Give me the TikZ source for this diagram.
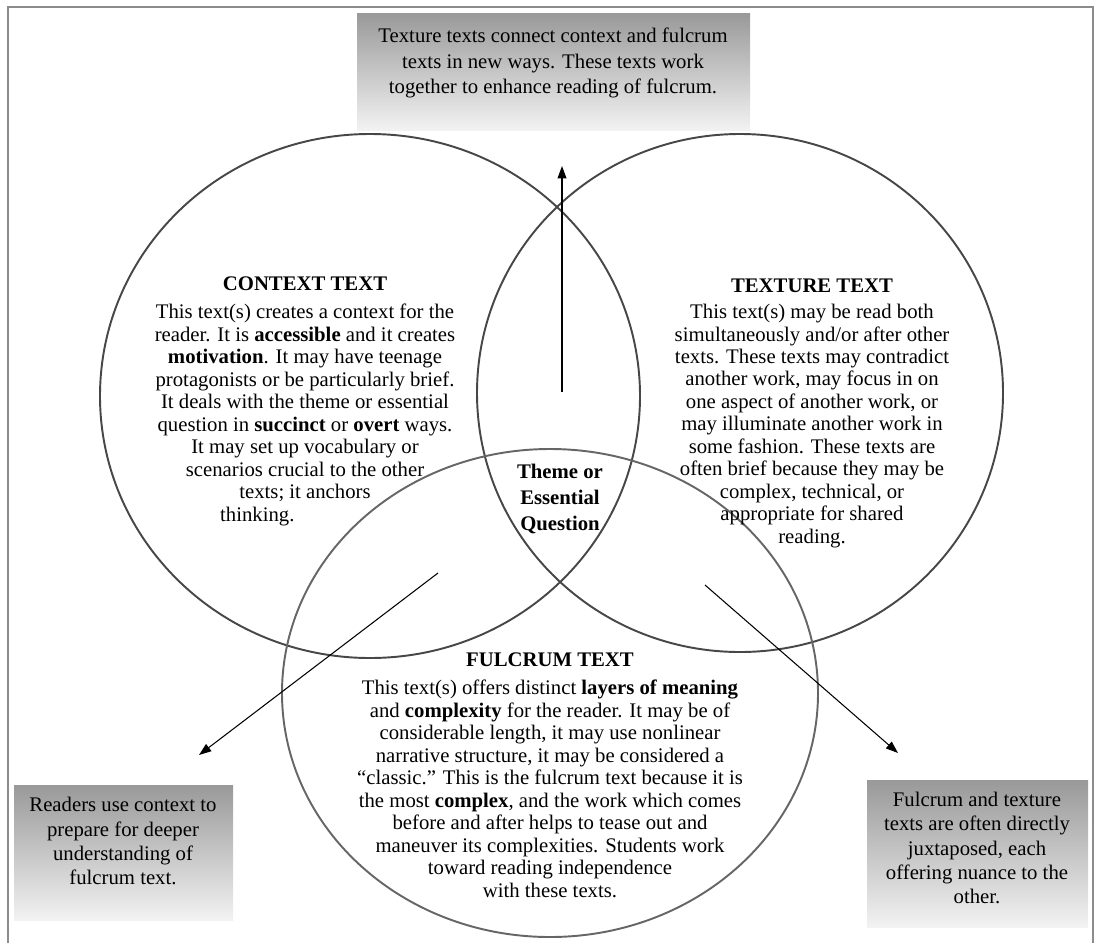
\documentclass[tikz,border=0pt]{standalone}
\usepackage{fontspec}
\setmainfont{Liberation Serif}
\usetikzlibrary{arrows.meta}

\begin{document}
\begin{tikzpicture}[
  x=0.02cm, y=-0.02cm,
  ring/.style={draw=black!72, line width=1.1pt},
  blurb/.style={font=\fontsize{11.8}{12.8}\selectfont, align=center, inner sep=0pt},
  heading/.style={font=\fontsize{11.8}{12.8}\selectfont\bfseries, inner sep=0pt},
  notetext/.style={font=\fontsize{11.8}{13.7}\selectfont, align=center, inner sep=0pt},
  note/.style={top color=black!40, bottom color=black!5, draw=none},
  pointer/.style={draw=black, line width=0.6pt, -{Triangle[length=7pt,width=5pt]}},
  ]
  \useasboundingbox (0,0) rectangle (1097,943);

  % Frame, open at the bottom
  \draw[black!45, line width=1.6pt] (8,943) -- (8,7) -- (1093,7) -- (1093,943);

  % The three texts
  \draw[ring] (370,396) ellipse [x radius=270, y radius=262];
  \draw[ring] (740,393) ellipse [x radius=263, y radius=259];
  \draw[ring, draw=black!60] (550,693) ellipse [x radius=268, y radius=244];

  % Context text
  \node[heading] (contexthead) at (305,284) {CONTEXT TEXT};
  \node[blurb] (contextbody) at (305,415) {This text(s) creates a context for the\\
    reader. It is \textbf{accessible} and it creates\\
    \textbf{motivation}. It may have teenage\\
    protagonists or be particularly brief.\\
    It deals with the theme or essential\\
    question in \textbf{succinct} or \textbf{overt} ways.\\
    It may set up vocabulary or\\
    scenarios crucial to the other\\
    texts; it anchors\\
    thinking.\hspace*{4.6em}};

  % Texture text
  \node[heading] (texturehead) at (812,286) {TEXTURE TEXT};
  \node[blurb] (texturebody) at (812,426) {This text(s) may be read both\\
    simultaneously and/or after other\\
    texts. These texts may contradict\\
    another work, may focus in on\\
    one aspect of another work, or\\
    may illuminate another work in\\
    some fashion. These texts are\\
    often brief because they may be\\
    complex, technical, or\\
    appropriate for shared\\
    reading.};

  % Fulcrum text
  \node[heading] (fulcrumhead) at (550,660) {FULCRUM TEXT};
  \node[blurb] (fulcrumbody) at (550,789) {This text(s) offers distinct \textbf{layers of meaning}\\
    and \textbf{complexity} for the reader. It may be of\\
    considerable length, it may use nonlinear\\
    narrative structure, it may be considered a\\
    “classic.” This is the fulcrum text because it is\\
    the most \textbf{complex}, and the work which comes\\
    before and after helps to tease out and\\
    maneuver its complexities. Students work\\
    toward reading independence\\
    with these texts.};

  % Centre of the diagram
  \node[blurb, font=\fontsize{11.8}{15}\selectfont\bfseries] (theme) at (560,499) {Theme or\\ Essential\\ Question};

  % Shaded notes
  \shade[note] (357,13) rectangle (750,130);
  \node[notetext, font=\fontsize{11.8}{14.4}\selectfont] (texturenote) at (553,63) {Texture texts connect context and fulcrum\\
    texts in new ways. These texts work\\
    together to enhance reading of fulcrum.};

  \shade[note] (14,785) rectangle (233,920);
  \node[notetext] (contextnote) at (123,841) {Readers use context to\\
    prepare for deeper\\
    understanding of\\
    fulcrum text.};

  \shade[note] (867,780) rectangle (1088,927);
  \node[notetext] (fulcrumnote) at (977,848) {Fulcrum and texture\\
    texts are often directly\\
    juxtaposed, each\\
    offering nuance to the\\
    other.};

  % Arrows
  \coordinate (upstart) at (562,392);
  \coordinate (uptip) at (562,166);
  \coordinate (leftstart) at (438,573);
  \coordinate (lefttip) at (199,755);
  \coordinate (rightstart) at (705,585);
  \coordinate (righttip) at (898,753);
  \draw[pointer] (upstart) -- (uptip);
  \draw[pointer] (leftstart) -- (lefttip);
  \draw[pointer] (rightstart) -- (righttip);

\end{tikzpicture}
\end{document}
